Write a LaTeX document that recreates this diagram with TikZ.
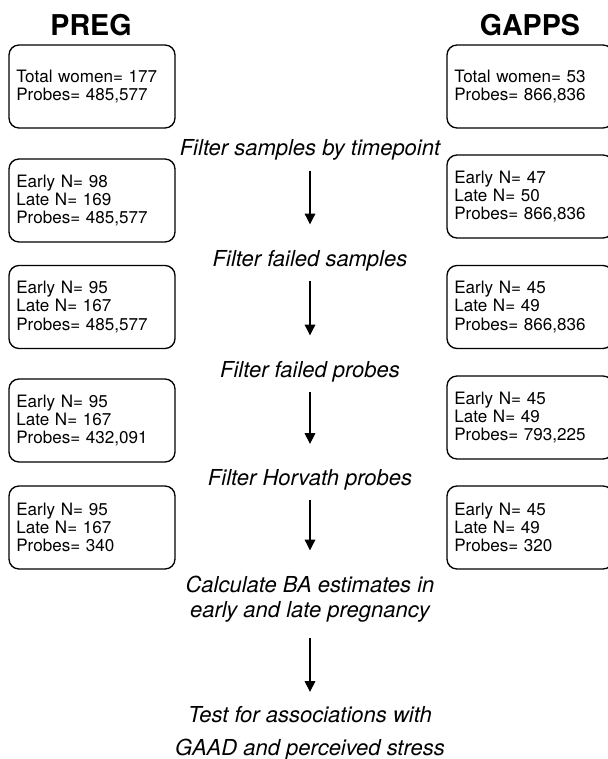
\documentclass[tikz,border=0pt]{standalone}
\usepackage{fontspec}
\setmainfont{TeX Gyre Heros}
\usetikzlibrary{arrows.meta}

\begin{document}
\begin{tikzpicture}[
  x=0.75pt,
  y=-0.75pt,
  count/.style={
    draw,
    line width=1pt,
    rounded corners=7.5pt,
    align=left,
    inner xsep=5.5pt,
    text width=113.5pt,
    minimum height=62.25pt,
    font=\fontsize{12.8}{13.6}\selectfont
  },
  cohort/.style={anchor=base, font=\fontsize{21.5}{24}\selectfont\bfseries},
  stage/.style={
    anchor=base,
    inner sep=0pt,
    align=center,
    font=\fontsize{16.5}{18.75}\selectfont\itshape
  },
  flow/.style={-{Triangle[width=8pt,length=8pt]}, line width=0.8pt,
    shorten <=7.5pt, shorten >=19pt}
]
\useasboundingbox (0,0) rectangle (607,759);

\node[cohort] (preg) at (91,36) {PREG};
\node[cohort] (gapps) at (530,36) {GAPPS};

% PREG column
\node[count] (preg1) at (92,86.5) {Total women= 177\\Probes= 485,577};
\node[count] (preg2) at (92,200.5) {Early N= 98\\Late N= 169\\Probes= 485,577};
\node[count] (preg3) at (92,307) {Early N= 95\\Late N= 167\\Probes= 485,577};
\node[count] (preg4) at (92,420.5) {Early N= 95\\Late N= 167\\Probes= 432,091};
\node[count] (preg5) at (92,527.5) {Early N= 95\\Late N= 167\\Probes= 340};

% GAPPS column
\node[count] (gapps1) at (530,86.5) {Total women= 53\\Probes= 866,836};
\node[count] (gapps2) at (530,196.5) {Early N= 47\\Late N= 50\\Probes= 866,836};
\node[count] (gapps3) at (530,307) {Early N= 45\\Late N= 49\\Probes= 866,836};
\node[count] (gapps4) at (530,417.5) {Early N= 45\\Late N= 49\\Probes= 793,225};
\node[count] (gapps5) at (530,527.5) {Early N= 45\\Late N= 49\\Probes= 320};

% processing steps
\node[stage] (timept) at (310,155.5) {Filter samples by timepoint};
\node[stage] (failsmp) at (310,266) {Filter failed samples};
\node[stage] (failprb) at (310,377) {Filter failed probes};
\node[stage] (horvath) at (310,485.5) {Filter Horvath probes};
\node[stage, anchor=center] (calcba) at (310,599) {Calculate BA estimates in\\early and late pregnancy};
\node[stage, anchor=center, font=\fontsize{16.5}{24.75}\selectfont\itshape] (assoc) at (310,733)
  {Test for associations with\\GAAD and perceived stress};

\draw[flow] (timept) -- (failsmp);
\draw[flow] (failsmp) -- (failprb);
\draw[flow] (failprb) -- (horvath);
\draw[flow] (horvath) -- (calcba);
\draw[flow, shorten <=12pt, shorten >=10.5pt] (calcba) -- (assoc);

\end{tikzpicture}
\end{document}
